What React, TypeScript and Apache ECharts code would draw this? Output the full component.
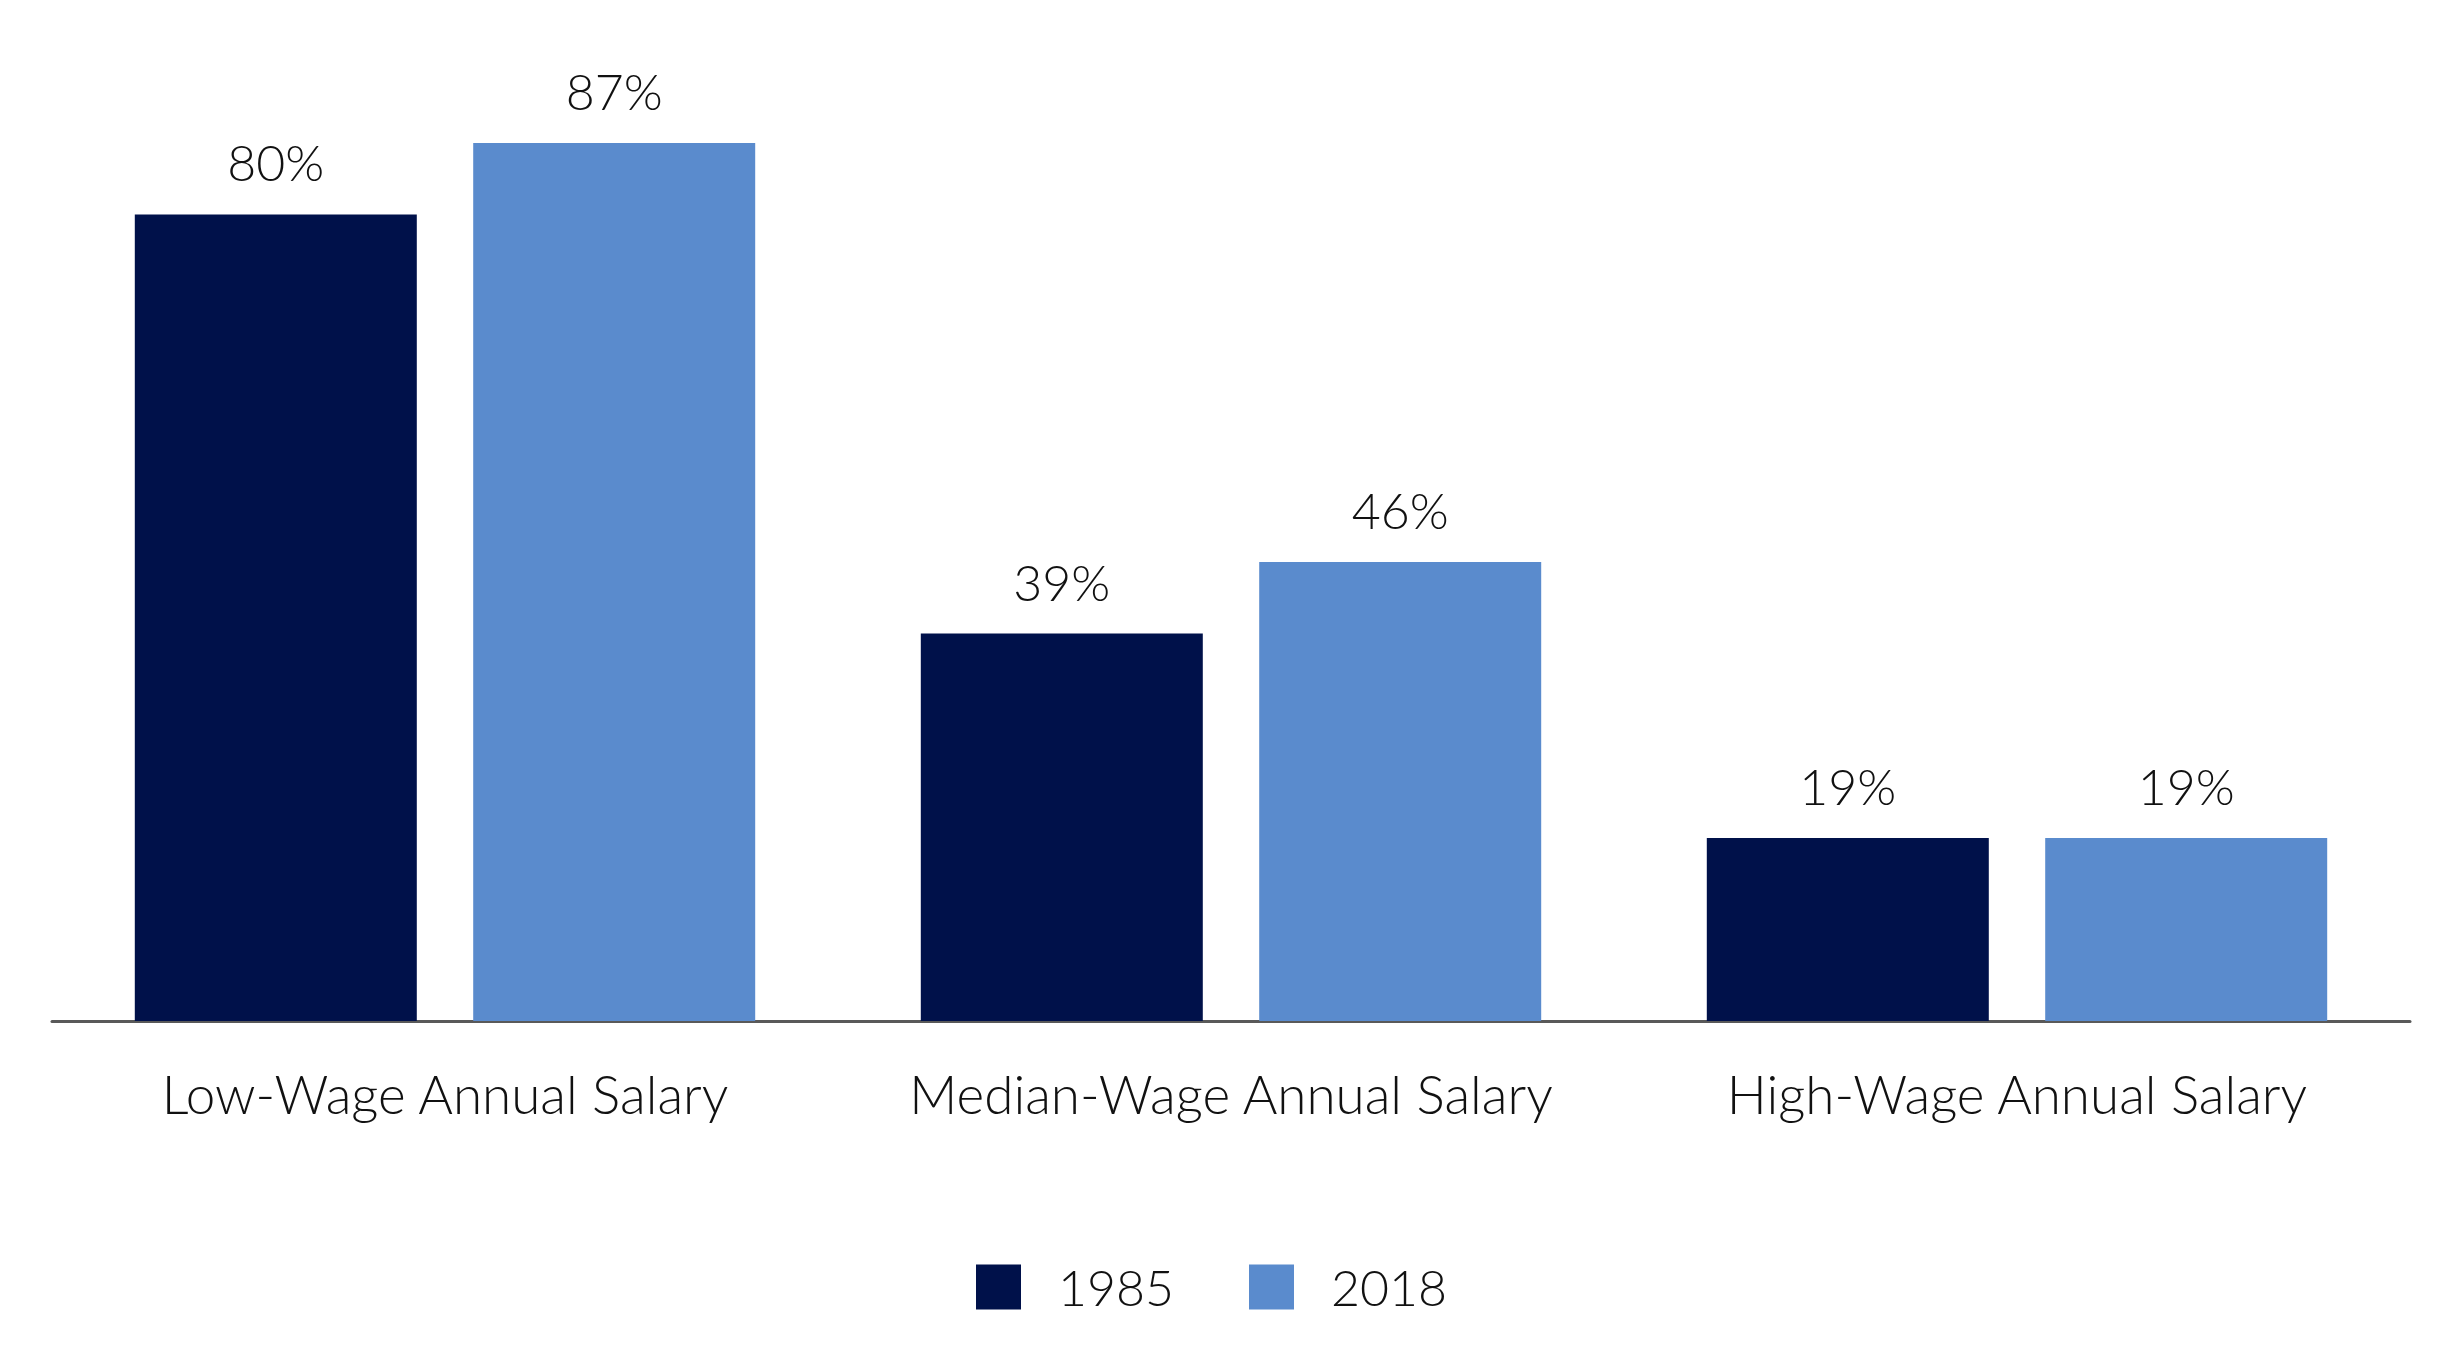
import { useEffect, useRef } from 'react';
import * as echarts from 'echarts';

const categories = ['Low-Wage Annual Salary', 'Median-Wage Annual Salary', 'High-Wage Annual Salary'];
const seriesNames = ['1985', '2018'];
const values1985 = [80, 39, 19];
const values2018 = [87, 46, 19];

const FONT = 'Lato, "Noto Sans", sans-serif';

export default function App() {
  const chartRef = useRef<HTMLDivElement>(null);

  useEffect(() => {
    document.body.style.margin = '0';
    if (!chartRef.current) return;
    const chart = echarts.init(chartRef.current, undefined, { renderer: 'svg' });

    const barLabel = {
      show: true,
      position: 'top' as const,
      distance: 27,
      color: '#111',
      fontSize: 50,
      fontWeight: 300,
      fontFamily: FONT,
      formatter: (p: any) => `${p.value}%`,
    };

    chart.setOption({
      animation: false,
      backgroundColor: '#fff',
      textStyle: { fontFamily: FONT },
      color: ['#00114A', '#5A8BCD'],
      grid: { left: 52, right: 47, top: 10, bottom: 343, containLabel: false },
      legend: {
        data: seriesNames,
        bottom: 47,
        left: 971,
        icon: 'rect',
        itemWidth: 45,
        itemHeight: 45,
        itemGap: 75,
        textStyle: { fontSize: 50, fontWeight: 300, color: '#111', fontFamily: FONT, padding: [0, 0, 0, 32] },
      },
      xAxis: {
        type: 'category',
        data: categories,
        axisTick: { show: false },
        axisLine: { onZero: false, lineStyle: { color: '#595959', width: 3 } },
        axisLabel: { interval: 0, margin: 46, fontSize: 53, fontWeight: 300, color: '#111', fontFamily: FONT },
      },
      yAxis: {
        type: 'value',
        min: 1.1,
        max: 100,
        show: false,
        splitLine: { show: false },
      },
      series: [
        {
          name: seriesNames[0],
          type: 'bar',
          data: values1985,
          barWidth: 282,
          barGap: '20%',
          label: barLabel,
        },
        {
          name: seriesNames[1],
          type: 'bar',
          data: values2018,
          barWidth: 282,
          barGap: '20%',
          label: barLabel,
        },
      ],
    });

    return () => {
      chart.dispose();
    };
  }, []);

  return <div ref={chartRef} style={{ width: 2457, height: 1364 }} />;
}
